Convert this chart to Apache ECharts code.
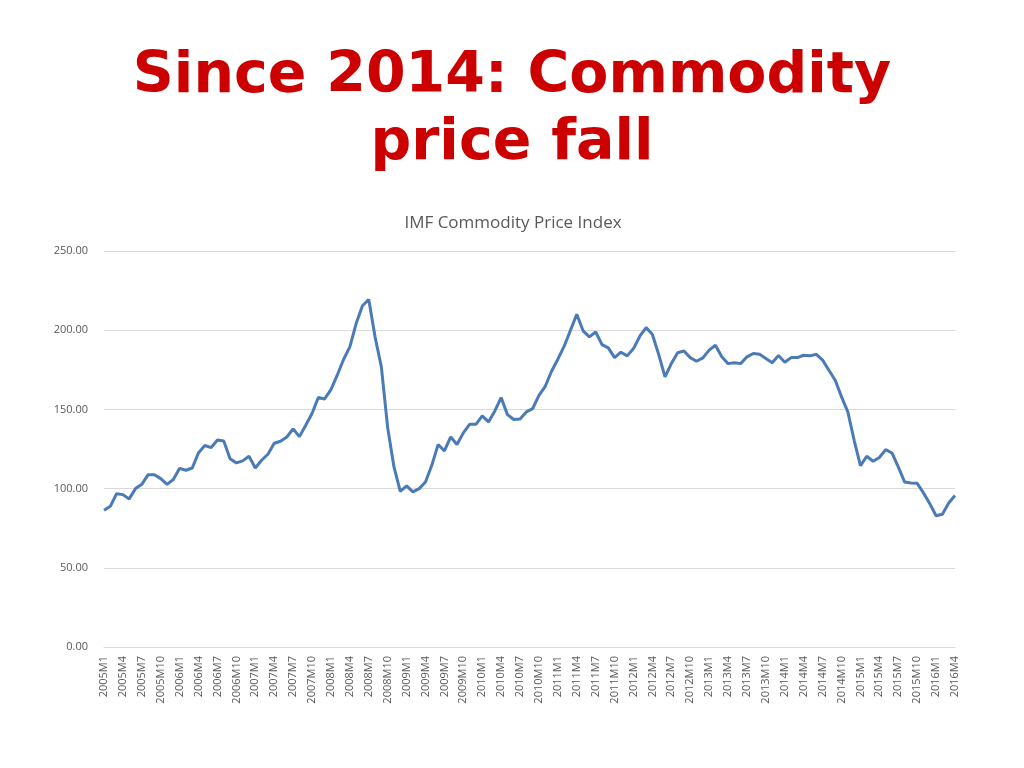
<!DOCTYPE html>
<html>
<head>
<meta charset="utf-8">
<script src="https://cdn.jsdelivr.net/npm/echarts@6/dist/echarts.min.js"></script>
<style>
html,body{margin:0;padding:0;background:#fff;}
#chart{width:1024px;height:768px;}
</style>
</head>
<body>
<div id="chart"></div>
<script>
var titleText = "Since 2014: Commodity\nprice fall";
var subtitleText = "IMF Commodity Price Index";
var startYear = 2005, endYear = 2016, endMonth = 4;
var categories = [];
for (var y = startYear; y <= endYear; y++) {
  for (var m = 1; m <= 12; m++) {
    if (y === endYear && m > endMonth) break;
    categories.push(y + "M" + m);
  }
}
var yTicks = [0, 50, 100, 150, 200, 250];
var values2005_2007 = [86.3, 88.8, 96.8, 96.2, 93.5, 100, 102.7, 108.8, 108.8, 106.3, 102.7, 105.7,
  112.8, 111.6, 113, 122.7, 127.2, 125.9, 130.7, 130.1, 118.9, 116.2, 117.5, 120.4,
  113, 117.9, 121.7, 128.6, 129.9, 132.6, 137.7, 132.8, 140, 147.4, 157.5, 156.6];
var values2008_2010 = [162.5, 171.6, 181.5, 189.5, 204.2, 215.4, 219.4, 195.8, 176.8, 138.5, 113.7, 98.3,
  101.7, 97.9, 100, 104.2, 114.7, 127.8, 123.8, 132.6, 127.8, 135.2, 140.6, 140.6,
  145.9, 142.1, 149, 157.5, 146.7, 143.6, 144, 148.4, 150.5, 158.9, 164.6, 174.1];
var values2011_2013 = [181.7, 189.9, 200, 210.1, 199.6, 195.8, 198.9, 190.9, 188.8, 182.7, 186.1, 183.8,
  188.4, 196.2, 201.7, 197.3, 184.6, 170.5, 178.9, 185.8, 186.9, 182.7, 180.4, 182.5,
  187.4, 190.5, 183.2, 178.9, 179.4, 178.9, 183.2, 185.3, 184.8, 182.1, 179.4, 184];
var values2014_2016 = [179.8, 182.7, 182.7, 184.2, 183.8, 184.8, 181.1, 174.7, 168.4, 157.9, 148.4, 130.5,
  114.5, 120.4, 117.3, 119.6, 124.6, 122.5, 113.7, 104.2, 103.6, 103.4, 97.3, 90.5,
  82.9, 83.8, 90.9, 95.6];
var seriesValues = values2005_2007.concat(values2008_2010, values2011_2013, values2014_2016);

var chart = echarts.init(document.getElementById('chart'));
chart.setOption({
  backgroundColor: '#ffffff',
  animation: false,
  title: [{
    text: titleText,
    left: 'center',
    top: 39,
    textStyle: {
      color: '#CC0000',
      fontFamily: 'DejaVu Sans',
      fontWeight: 'bold',
      fontSize: 57,
      lineHeight: 67
    }
  }, {
    text: subtitleText,
    left: 508,
    top: 210,
    textAlign: 'center',
    textStyle: {
      color: '#595959',
      fontFamily: 'Open Sans',
      fontWeight: 'normal',
      fontSize: 17
    }
  }],
  grid: { left: 104, right: 69, top: 251, bottom: 121, containLabel: false },
  xAxis: {
    type: 'category',
    data: categories,
    boundaryGap: false,
    axisLine: { show: true, lineStyle: { color: '#D9D9D9', width: 1 } },
    axisTick: { show: false },
    axisLabel: {
      interval: 2,
      rotate: 90,
      color: '#595959',
      fontFamily: 'Open Sans',
      fontSize: 11,
      margin: 9
    },
    splitLine: { show: false }
  },
  yAxis: {
    type: 'value',
    min: yTicks[0],
    max: yTicks[yTicks.length - 1],
    interval: 50,
    axisLine: { show: false },
    axisTick: { show: false },
    axisLabel: {
      color: '#595959',
      fontFamily: 'Open Sans',
      fontSize: 11,
      margin: 16,
      formatter: function (v) { return v.toFixed(2); }
    },
    splitLine: { lineStyle: { color: '#D9D9D9', width: 1 } }
  },
  series: [{
    type: 'line',
    data: seriesValues,
    showSymbol: false,
    symbol: 'none',
    lineStyle: { color: '#4A7BB7', width: 3 },
    itemStyle: { color: '#4A7BB7' }
  }]
});
</script>
</body>
</html>
